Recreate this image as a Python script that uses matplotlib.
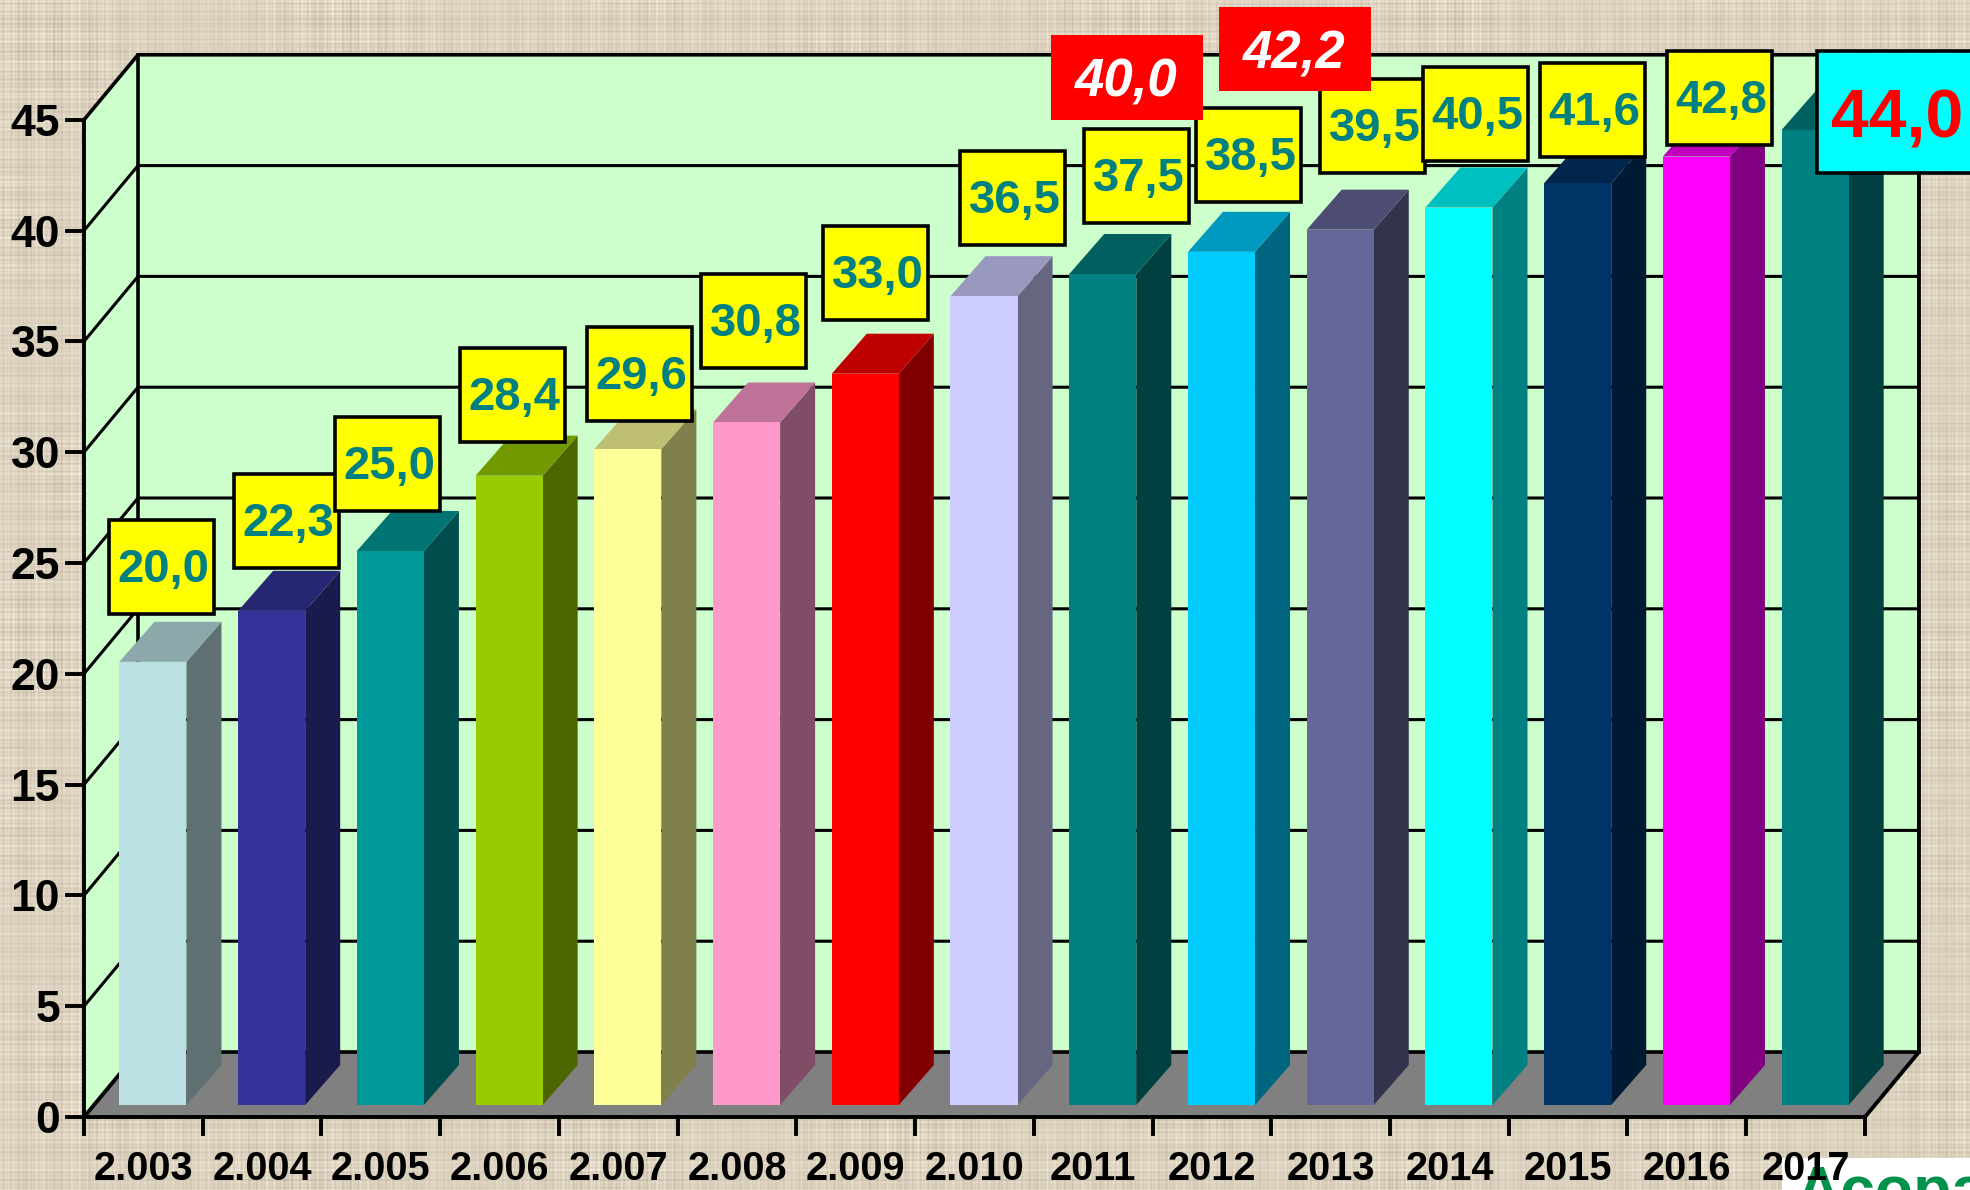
import numpy as np
import matplotlib
matplotlib.use('Agg')
import matplotlib.pyplot as plt
from matplotlib.colors import to_rgb
from matplotlib.patches import Polygon, Rectangle

anos = ['2.003', '2.004', '2.005', '2.006', '2.007', '2.008', '2.009', '2.010',
        '2011', '2012', '2013', '2014', '2015', '2016', '2017']
valores = [20.0, 22.3, 25.0, 28.4, 29.6, 30.8, 33.0, 36.5,
           37.5, 38.5, 39.5, 40.5, 41.6, 42.8, 44.0]
cores = ['#BBE0E3', '#333399', '#009999', '#99CC00', '#FFFF99', '#FF99CC', '#FF0000', '#CCCCFF',
         '#008080', '#00CCFF', '#666699', '#00FFFF', '#003366', '#FF00FF', '#008080']
extras = [40.0, 42.2]
yticks = [0, 5, 10, 15, 20, 25, 30, 35, 40, 45]

W, H = 1970, 1190
# pixel position of the front axis
X0, Y0 = 84, 1117
PX_CAT = 118.73
PX_VAL = 22.16
# wall depth and bar depth in data units
DX, DY = 54 / PX_CAT, 65 / PX_VAL
BAR_DX, BAR_DY = 35 / PX_CAT, 40 / PX_VAL
BAR_LEFT, BAR_W = 0.298, 0.565
BASE_DY = 12 / PX_VAL
N = len(anos)
TOPO = yticks[-1]

plt.rcParams['font.family'] = ['Liberation Sans', 'DejaVu Sans']
fig = plt.figure(figsize=(W / 100, H / 100), dpi=100)


def px_x(p):
    return (p - X0) / PX_CAT


def px_y(p):
    return (Y0 - p) / PX_VAL


# linen background
yy, xx = np.mgrid[0:H, 0:W]
linhas = np.sin(yy * 1.57) * 5 + np.sin(yy * 0.93 + 1) * 4 + np.sin(yy * 0.217) * 3
colunas = np.sin(xx * 1.61) * 5 + np.sin(xx * 0.87 + 2) * 4 + np.sin(xx * 0.193) * 3
mancha = (np.sin(xx * 0.023 + yy * 0.011) + np.sin(yy * 0.031 - xx * 0.017 + 1)) * 0.5
tex = (linhas + colunas) * (1.05 + 0.5 * mancha)
fundo = np.stack([220 + tex, 210 + tex, 191 + tex * 1.1], axis=2)
fig.figimage(np.clip(fundo, 0, 255).astype(np.uint8), 0, 0, zorder=-1, origin='upper')

ax = fig.add_axes([0, 0, 1, 1])
ax.set_xlim(px_x(0), px_x(W))
ax.set_ylim(px_y(H), px_y(0))
ax.axis('off')

# walls and floor
ax.add_patch(Polygon([(DX, DY), (N + DX, DY), (N + DX, TOPO + DY), (DX, TOPO + DY), (0, TOPO), (0, 0)],
                     facecolor='#CCFFCC', edgecolor='none', zorder=1))
ax.add_patch(Polygon([(0, 0), (DX, DY), (N + DX, DY), (N, 0)], facecolor='#808080', edgecolor='none', zorder=1))

# grid lines
for v in yticks[1:-1]:
    ax.plot([0, DX, N + DX], [v, v + DY, v + DY], color='black', lw=2.2, zorder=2, solid_joinstyle='miter')
ax.plot([0, DX, N + DX], [TOPO, TOPO + DY, TOPO + DY], color='black', lw=2.6, zorder=2)
ax.plot([0, 0, N, N + DX, N + DX], [TOPO, 0, 0, DY, TOPO + DY], color='black', lw=2.8, zorder=2,
        solid_joinstyle='miter')
ax.plot([DX, DX, N + DX], [TOPO + DY, DY, DY], color='black', lw=2.6, zorder=2, solid_joinstyle='miter')
ax.plot([0, DX], [0, DY], color='black', lw=2.8, zorder=2)

# axis ticks and labels
for v in yticks:
    ax.plot([-17 / PX_CAT, 0], [v, v], color='black', lw=2.8, zorder=2)
    ax.text(px_x(60), v, str(v), ha='right', va='center_baseline', fontsize=32, fontweight='bold', zorder=3)
for i in range(N + 1):
    ax.plot([i, i], [0, -17 / PX_VAL], color='black', lw=2.8, zorder=2)


def escurece(cor, f):
    return tuple(c * f for c in to_rgb(cor))


# bars, front / top / side faces
for i, (v, cor) in enumerate(zip(valores, cores)):
    x0 = i + BAR_LEFT
    x1 = x0 + BAR_W
    b = BASE_DY
    t = v + BASE_DY
    ax.add_patch(Polygon([(x1, b), (x1 + BAR_DX, b + BAR_DY), (x1 + BAR_DX, t + BAR_DY), (x1, t)],
                         facecolor=escurece(cor, 0.5), edgecolor='none', zorder=4))
    ax.add_patch(Polygon([(x0, t), (x1, t), (x1 + BAR_DX, t + BAR_DY), (x0 + BAR_DX, t + BAR_DY)],
                         facecolor=escurece(cor, 0.75), edgecolor='none', zorder=4))
    ax.add_patch(Rectangle((x0, b), BAR_W, v, facecolor=cor, edgecolor='none', zorder=4))


def caixa(left, top, w, h, texto, cor_fundo, cor_texto, tam, borda=True, italico=False, dx=0, dy=0):
    ax.add_patch(Rectangle((px_x(left), px_y(top + h)), w / PX_CAT, h / PX_VAL, facecolor=cor_fundo,
                           edgecolor='black' if borda else 'none', lw=2.6, zorder=5))
    ax.text(px_x(left + w / 2 + dx), px_y(top + h / 2 + dy), texto, ha='center', va='center_baseline',
            color=cor_texto, fontsize=tam, fontweight='bold', style='italic' if italico else 'normal',
            zorder=5)


def rotulo(v):
    return f'{v:.1f}'.replace('.', ',')


# label boxes, top left corner in pixels
caixas_x = [109, 234, 335, 460, 587, 701, 823, 960, 1084, 1196, 1320, 1423, 1540, 1667]
caixas_y = [520, 474, 417, 348, 327, 274, 226, 151, 129, 108, 79, 67, 63, 51]
for x, y, v in zip(caixas_x, caixas_y, valores):
    caixa(x, y, 105, 94, rotulo(v), '#FFFF00', '#008080', 34, dx=2, dy=-2)
caixa(1817, 51, 160, 122, rotulo(valores[-1]), '#00FFFF', '#FF0000', 49, dy=1)
caixa(1051, 35, 152, 85, rotulo(extras[0]), '#FF0000', 'white', 38, borda=False, italico=True, dx=-1)
caixa(1219, 7, 152, 84, rotulo(extras[1]), '#FF0000', 'white', 38, borda=False, italico=True, dx=-1)

# logo in the corner, cut by the picture edge
ax.add_patch(Rectangle((px_x(1782), px_y(H)), 188 / PX_CAT, 32 / PX_VAL, facecolor='white',
                       edgecolor='none', zorder=2))
ax.text(px_x(1795), px_y(1210), 'Acopa', color='#00924A', fontsize=45, fontweight='bold', ha='left',
        va='baseline', zorder=3)

for i, ano in enumerate(anos):
    ax.text(i + 0.5, px_y(1165), ano, ha='center', va='center_baseline', fontsize=28.5, fontweight='bold',
            zorder=4)

fig.savefig('out.png', dpi=100)
